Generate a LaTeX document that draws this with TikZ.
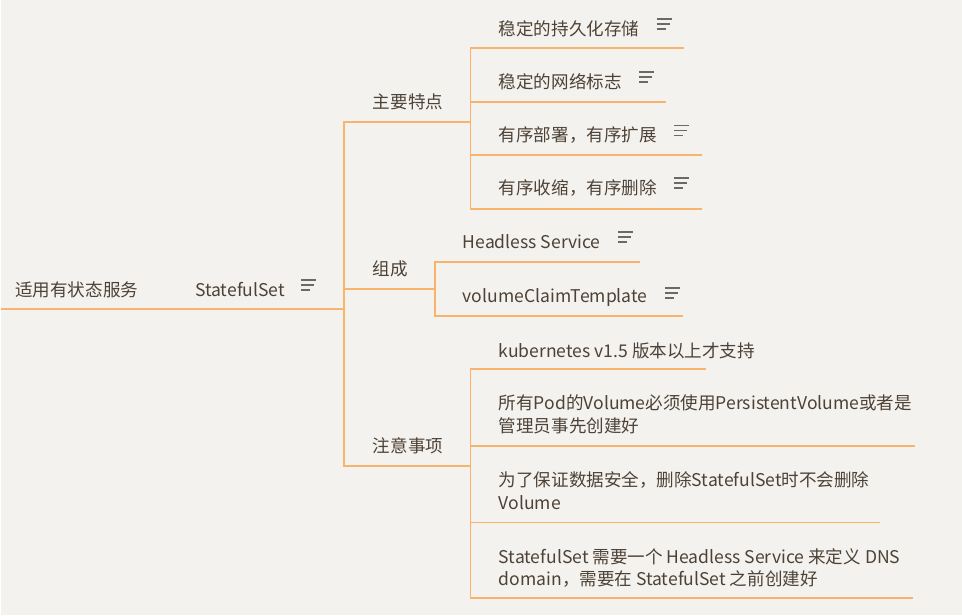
\documentclass[tikz,border=0pt]{standalone}
\usepackage{fontspec}
\setmainfont{Noto Sans CJK SC}
\usetikzlibrary{positioning}
\definecolor{bgcol}{HTML}{F3F2EF}
\definecolor{linecol}{HTML}{F8B36C}
\definecolor{txtcol}{HTML}{4E4236}
\definecolor{iconcol}{HTML}{6A6A6A}

\begin{document}
\begin{tikzpicture}[x=0.02cm, y=-0.02cm,
        topic/.style={anchor=base west, inner sep=0pt, text=txtcol, font=\fontsize{10}{13}\selectfont},
        topic2/.style={anchor=west, inner sep=0pt, text=txtcol, align=left, font=\fontsize{10}{13}\selectfont},
        link/.style={draw=linecol, line width=1.1pt},
        notes/.pic={\draw [iconcol, line width=1pt] (0,-5) -- (15,-5) (0,0) -- (13,0) (0,5) -- (9,5);}]
        % Background and frame
        \fill [bgcol] (0,0) rectangle (962,616);

        % Root and main topic
        \node [topic] (root) at (14,297) {适用有状态服务};
        \node [topic] (sset) at (194,297) {StatefulSet};
        \path (sset.east) ++(16,-5) pic {notes};
        \coordinate (rootL) at (0,309);
        \coordinate (hub) at (343,309);
        \draw [link] (rootL) -- (hub);

        % Branch 1: features
        \node [topic] (feat) at (372,109) {主要特点};
        \coordinate (featF) at (470,122);
        \draw [link] (hub) |- (featF);

        \node [topic] (feat1) at (498,36) {稳定的持久化存储};
        \node [topic] (feat2) at (498,89) {稳定的网络标志};
        \node [topic] (feat3) at (498,142) {有序部署，有序扩展};
        \node [topic] (feat4) at (498,195) {有序收缩，有序删除};
        \foreach \n in {feat1,feat2,feat3,feat4}
            \path (\n.east) ++(17,-5) pic {notes};
        \coordinate (feat1e) at (684,48);
        \coordinate (feat2e) at (666,102);
        \coordinate (feat3e) at (702,155);
        \coordinate (feat4e) at (702,209);
        \foreach \e in {feat1e,feat2e,feat3e,feat4e}
            \draw [link] (featF) |- (\e);

        % Branch 2: parts
        \node [topic] (comp) at (372,276) {组成};
        \coordinate (compF) at (434,289);
        \draw [link] (hub) |- (compF);

        \node [topic] (comp1) at (462,249) {Headless Service};
        \node [topic] (comp2) at (462,303) {volumeClaimTemplate};
        \foreach \n in {comp1,comp2}
            \path (\n.east) ++(17,-5) pic {notes};
        \coordinate (comp1e) at (640,262);
        \coordinate (comp2e) at (683,316);
        \foreach \e in {comp1e,comp2e}
            \draw [link] (compF) |- (\e);

        % Branch 3: notes
        \node [topic] (note) at (372,453) {注意事项};
        \coordinate (noteF) at (470,466);
        \draw [link] (hub) |- (noteF);

        \node [topic] (note1) at (498,358) {kubernetes v1.5 版本以上才支持};
        \node [topic2] (note2) at (498,414.5) {所有Pod的Volume必须使用PersistentVolume或者是\\管理员事先创建好};
        \node [topic2] (note3) at (498,491.5) {为了保证数据安全，删除StatefulSet时不会删除\\Volume};
        \node [topic2] (note4) at (498,568.5) {StatefulSet 需要一个 Headless Service 来定义 DNS\\domain，需要在 StatefulSet 之前创建好};
        \coordinate (note1e) at (706,369);
        \coordinate (note2e) at (915,446);
        \coordinate (note3e) at (880,523);
        \coordinate (note4e) at (913,599);
        \foreach \e in {note1e,note2e,note3e,note4e}
            \draw [link] (noteF) |- (\e);
    \end{tikzpicture}
\end{document}
